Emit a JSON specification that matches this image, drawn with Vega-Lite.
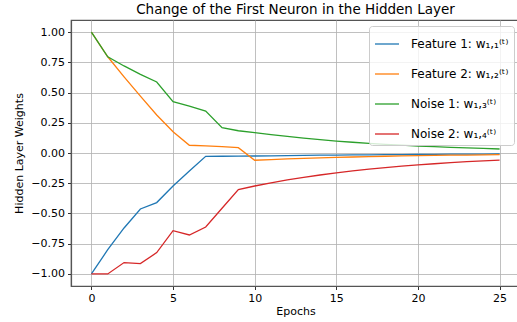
{
  "$schema": "https://vega.github.io/schema/vega-lite/v6.json",
  "width": 449,
  "height": 266,
  "autosize": {"type": "none"},
  "padding": {"left": 71, "top": 20, "right": 0, "bottom": 36},
  "background": "white",
  "title": {"text": "Change of the First Neuron in the Hidden Layer", "fontSize": 13.5, "font": "DejaVu Sans", "fontWeight": "normal", "color": "#000", "offset": 4},
  "config": {
    "font": "DejaVu Sans",
    "view": {"stroke": "#555", "strokeWidth": 1.2},
    "axis": {
      "domainColor": "#555", "domainWidth": 1.2,
      "gridColor": "#b0b0b0", "gridWidth": 1, "gridOpacity": 0.8,
      "tickColor": "#333", "tickSize": 3.5, "tickWidth": 1,
      "labelFont": "DejaVu Sans", "labelFontSize": 11, "labelColor": "#000",
      "titleFont": "DejaVu Sans", "titleFontSize": 11, "titleFontWeight": "normal", "titleColor": "#000",
      "labelPadding": 3
    }
  },
  "data": {"values": [
    {"e":0,"s":"F1","w":-1.0},{"e":1,"s":"F1","w":-0.80},{"e":2,"s":"F1","w":-0.62},{"e":3,"s":"F1","w":-0.463},{"e":4,"s":"F1","w":-0.41},{"e":5,"s":"F1","w":-0.273},{"e":6,"s":"F1","w":-0.149},{"e":7,"s":"F1","w":-0.028},{"e":8,"s":"F1","w":-0.027},{"e":9,"s":"F1","w":-0.026},{"e":10,"s":"F1","w":-0.025},{"e":11,"s":"F1","w":-0.023},{"e":12,"s":"F1","w":-0.021},{"e":13,"s":"F1","w":-0.020},{"e":14,"s":"F1","w":-0.018},{"e":15,"s":"F1","w":-0.017},{"e":16,"s":"F1","w":-0.016},{"e":17,"s":"F1","w":-0.015},{"e":18,"s":"F1","w":-0.014},{"e":19,"s":"F1","w":-0.013},{"e":20,"s":"F1","w":-0.012},{"e":21,"s":"F1","w":-0.011},{"e":22,"s":"F1","w":-0.010},{"e":23,"s":"F1","w":-0.010},{"e":24,"s":"F1","w":-0.009},{"e":25,"s":"F1","w":-0.008},
    {"e":0,"s":"F2","w":1.0},{"e":1,"s":"F2","w":0.796},{"e":2,"s":"F2","w":0.63},{"e":3,"s":"F2","w":0.47},{"e":4,"s":"F2","w":0.314},{"e":5,"s":"F2","w":0.176},{"e":6,"s":"F2","w":0.064},{"e":7,"s":"F2","w":0.059},{"e":8,"s":"F2","w":0.052},{"e":9,"s":"F2","w":0.044},{"e":10,"s":"F2","w":-0.06},{"e":11,"s":"F2","w":-0.054},{"e":12,"s":"F2","w":-0.048},{"e":13,"s":"F2","w":-0.044},{"e":14,"s":"F2","w":-0.040},{"e":15,"s":"F2","w":-0.036},{"e":16,"s":"F2","w":-0.033},{"e":17,"s":"F2","w":-0.030},{"e":18,"s":"F2","w":-0.027},{"e":19,"s":"F2","w":-0.024},{"e":20,"s":"F2","w":-0.022},{"e":21,"s":"F2","w":-0.020},{"e":22,"s":"F2","w":-0.018},{"e":23,"s":"F2","w":-0.017},{"e":24,"s":"F2","w":-0.015},{"e":25,"s":"F2","w":-0.014},
    {"e":0,"s":"N1","w":1.0},{"e":1,"s":"N1","w":0.796},{"e":2,"s":"N1","w":0.72},{"e":3,"s":"N1","w":0.65},{"e":4,"s":"N1","w":0.587},{"e":5,"s":"N1","w":0.424},{"e":6,"s":"N1","w":0.388},{"e":7,"s":"N1","w":0.347},{"e":8,"s":"N1","w":0.209},{"e":9,"s":"N1","w":0.184},{"e":10,"s":"N1","w":0.168},{"e":11,"s":"N1","w":0.152},{"e":12,"s":"N1","w":0.137},{"e":13,"s":"N1","w":0.123},{"e":14,"s":"N1","w":0.110},{"e":15,"s":"N1","w":0.099},{"e":16,"s":"N1","w":0.089},{"e":17,"s":"N1","w":0.080},{"e":18,"s":"N1","w":0.072},{"e":19,"s":"N1","w":0.065},{"e":20,"s":"N1","w":0.058},{"e":21,"s":"N1","w":0.053},{"e":22,"s":"N1","w":0.047},{"e":23,"s":"N1","w":0.042},{"e":24,"s":"N1","w":0.038},{"e":25,"s":"N1","w":0.033},
    {"e":0,"s":"N2","w":-1.0},{"e":1,"s":"N2","w":-1.0},{"e":2,"s":"N2","w":-0.906},{"e":3,"s":"N2","w":-0.915},{"e":4,"s":"N2","w":-0.824},{"e":5,"s":"N2","w":-0.642},{"e":6,"s":"N2","w":-0.678},{"e":7,"s":"N2","w":-0.612},{"e":8,"s":"N2","w":-0.457},{"e":9,"s":"N2","w":-0.303},{"e":10,"s":"N2","w":-0.273},{"e":11,"s":"N2","w":-0.247},{"e":12,"s":"N2","w":-0.223},{"e":13,"s":"N2","w":-0.201},{"e":14,"s":"N2","w":-0.182},{"e":15,"s":"N2","w":-0.164},{"e":16,"s":"N2","w":-0.148},{"e":17,"s":"N2","w":-0.134},{"e":18,"s":"N2","w":-0.121},{"e":19,"s":"N2","w":-0.109},{"e":20,"s":"N2","w":-0.098},{"e":21,"s":"N2","w":-0.089},{"e":22,"s":"N2","w":-0.080},{"e":23,"s":"N2","w":-0.072},{"e":24,"s":"N2","w":-0.065},{"e":25,"s":"N2","w":-0.059}
  ]},
  "mark": {"type": "line", "strokeWidth": 1.3, "clip": true},
  "encoding": {
    "x": {"field": "e", "type": "quantitative", "title": "Epochs",
      "scale": {"domain": [-1.25, 26.25], "nice": false, "zero": false},
      "axis": {"values": [0, 5, 10, 15, 20, 25], "titlePadding": 2}},
    "y": {"field": "w", "type": "quantitative", "title": "Hidden Layer Weights",
      "scale": {"domain": [-1.1, 1.1], "nice": false, "zero": false},
      "axis": {"values": [-1, -0.75, -0.5, -0.25, 0, 0.25, 0.5, 0.75, 1], "format": ".2f", "titlePadding": 6}},
    "color": {"field": "s", "type": "nominal",
      "scale": {"domain": ["F1", "F2", "N1", "N2"], "range": ["#1f77b4", "#ff7f0e", "#2ca02c", "#d62728"]},
      "legend": {"title": null, "orient": "top-right", "offset": 6,
        "labelExpr": "{'F1':'Feature 1: w₁,₁⁽ᵗ⁾','F2':'Feature 2: w₁,₂⁽ᵗ⁾','N1':'Noise 1: w₁,₃⁽ᵗ⁾','N2':'Noise 2: w₁,₄⁽ᵗ⁾'}[datum.label]",
        "symbolType": "stroke", "symbolSize": 576, "symbolStrokeWidth": 1.3,
        "labelFontSize": 12, "labelFont": "DejaVu Sans", "labelColor": "#000",
        "rowPadding": 11, "padding": 5, "labelOffset": 11,
        "fillColor": "rgba(255,255,255,0.8)", "strokeColor": "#cccccc", "cornerRadius": 3}}
  }
}
